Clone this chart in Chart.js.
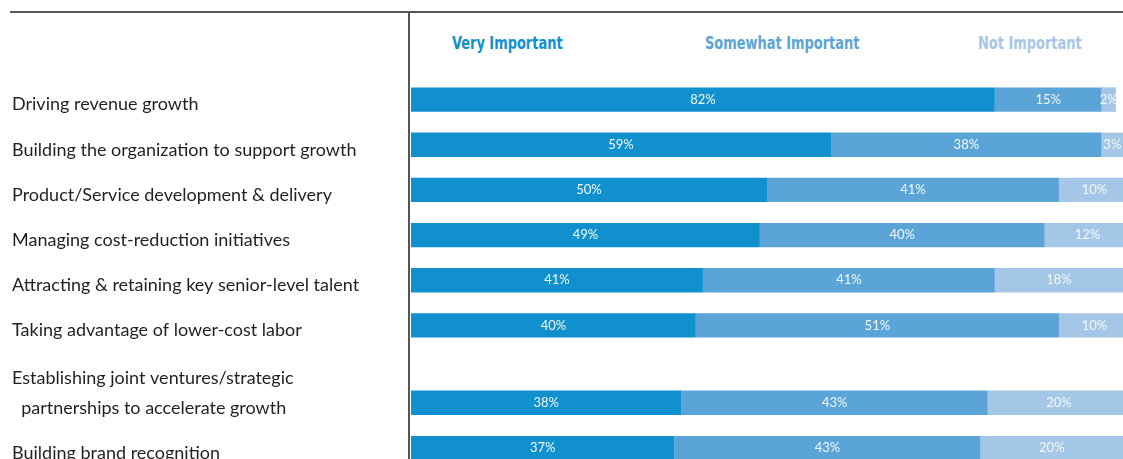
<!DOCTYPE html>
<html>
<head>
<meta charset="utf-8">
<script src="https://cdn.jsdelivr.net/npm/chart.js@4"></script>
<style>
	html, body { margin: 0; padding: 0; background: #fff; }
	body { width: 1123px; height: 459px; overflow: hidden; position: relative; }
	.rule-top { position: absolute; left: 10px; right: 0; top: 11px; border-top: 2px solid #555; }
	.rule-left { position: absolute; left: 408px; top: 12px; bottom: 0; border-left: 2px solid #555; }
	.legend span {
		position: absolute; top: 32px;
		font: bold 18px "Liberation Sans Narrow", "DejaVu Sans Condensed", sans-serif;
		font-stretch: condensed; line-height: 22px; white-space: nowrap;
		transform: scaleX(0.8); transform-origin: left center;
	}
	.box { position: absolute; left: 0; width: 1123px; }
	#boxA { top: 77px; height: 271px; }
	#boxB { top: 345px; height: 126px; }
</style>
</head>
<body>
<div class="rule-top"></div>
<div class="rule-left"></div>
<div class="legend" id="legend"></div>
<div class="box" id="boxA"><canvas id="chartA"></canvas></div>
<div class="box" id="boxB"><canvas id="chartB"></canvas></div>
<script>
const categories = [
	'Driving revenue growth',
	'Building the organization to support growth',
	'Product/Service development & delivery',
	'Managing cost-reduction initiatives',
	'Attracting & retaining key senior-level talent',
	'Taking advantage of lower-cost labor',
	['Establishing joint ventures/strategic', '  partnerships to accelerate growth'],
	'Building brand recognition'
]
const seriesNames = ['Very Important', 'Somewhat Important', 'Not Important']
const veryImportant = [82, 59, 50, 49, 41, 40, 38, 37]
const somewhatImportant = [15, 38, 41, 40, 41, 51, 43, 43]
const notImportant = [2, 3, 10, 12, 18, 10, 20, 20]

const colors = ['#1190cf', '#5aa4d8', '#a4c6e7']
const legendLeft = [452, 705, 978]

// header row acts as the legend
const $legend = document.getElementById('legend')
seriesNames.forEach(function(name, i) {
	const s = document.createElement('span')
	s.textContent = name
	s.style.color = colors[i]
	s.style.left = legendLeft[i] + 'px'
	$legend.appendChild(s)
})

const barText = {
	id: 'barText',
	afterDatasetsDraw(chart) {
		const ctx = chart.ctx
		ctx.save()
		ctx.font = '13px Lato, sans-serif'
		ctx.fillStyle = '#f3f8fc'
		ctx.textAlign = 'center'
		ctx.textBaseline = 'middle'
		chart.data.datasets.forEach(function(ds, i) {
			chart.getDatasetMeta(i).data.forEach(function(bar, j) {
				const c = bar.getCenterPoint()
				ctx.fillText(ds.data[j] + '%', c.x, c.y)
			})
		})
		ctx.restore()
	}
}

function makeChart(id, from, to, padTop) {
	const series = [veryImportant, somewhatImportant, notImportant]
	return new Chart(document.getElementById(id), {
		type: 'bar',
		data: {
			labels: categories.slice(from, to),
			datasets: series.map(function(vals, i) {
				return {
					label: seriesNames[i],
					data: vals.slice(from, to),
					backgroundColor: colors[i],
					borderWidth: 0,
					categoryPercentage: 1,
					barPercentage: 0.54
				}
			})
		},
		options: {
			indexAxis: 'y',
			responsive: true,
			maintainAspectRatio: false,
			animation: false,
			layout: { padding: { left: 12, right: 0, top: padTop, bottom: 0 } },
			plugins: { legend: { display: false }, tooltip: { enabled: false } },
			scales: {
				x: { stacked: true, min: 0, max: 100, display: false },
				y: {
					stacked: true,
					grid: { display: false },
					border: { display: false },
					afterFit(scale) {
						scale.width = 399
						// labels sit inside the row bands, no extra room needed
						scale.paddingTop = 0
						scale.paddingBottom = 0
					},
					ticks: {
						autoSkip: false,
						crossAlign: 'far',
						labelOffset: 5,
						color: '#231f20',
						padding: 0,
						font: { family: 'Lato, sans-serif', size: 18, lineHeight: '30px' },
						callback(value) {
							const lbl = this.getLabelForValue(value)
							return Array.isArray(lbl) ? lbl.concat(['']) : lbl
						}
					}
				}
			}
		},
		plugins: [barText]
	})
}

makeChart('chartA', 0, 6, 0)
makeChart('chartB', 6, 8, 35)
</script>
</body>
</html>
